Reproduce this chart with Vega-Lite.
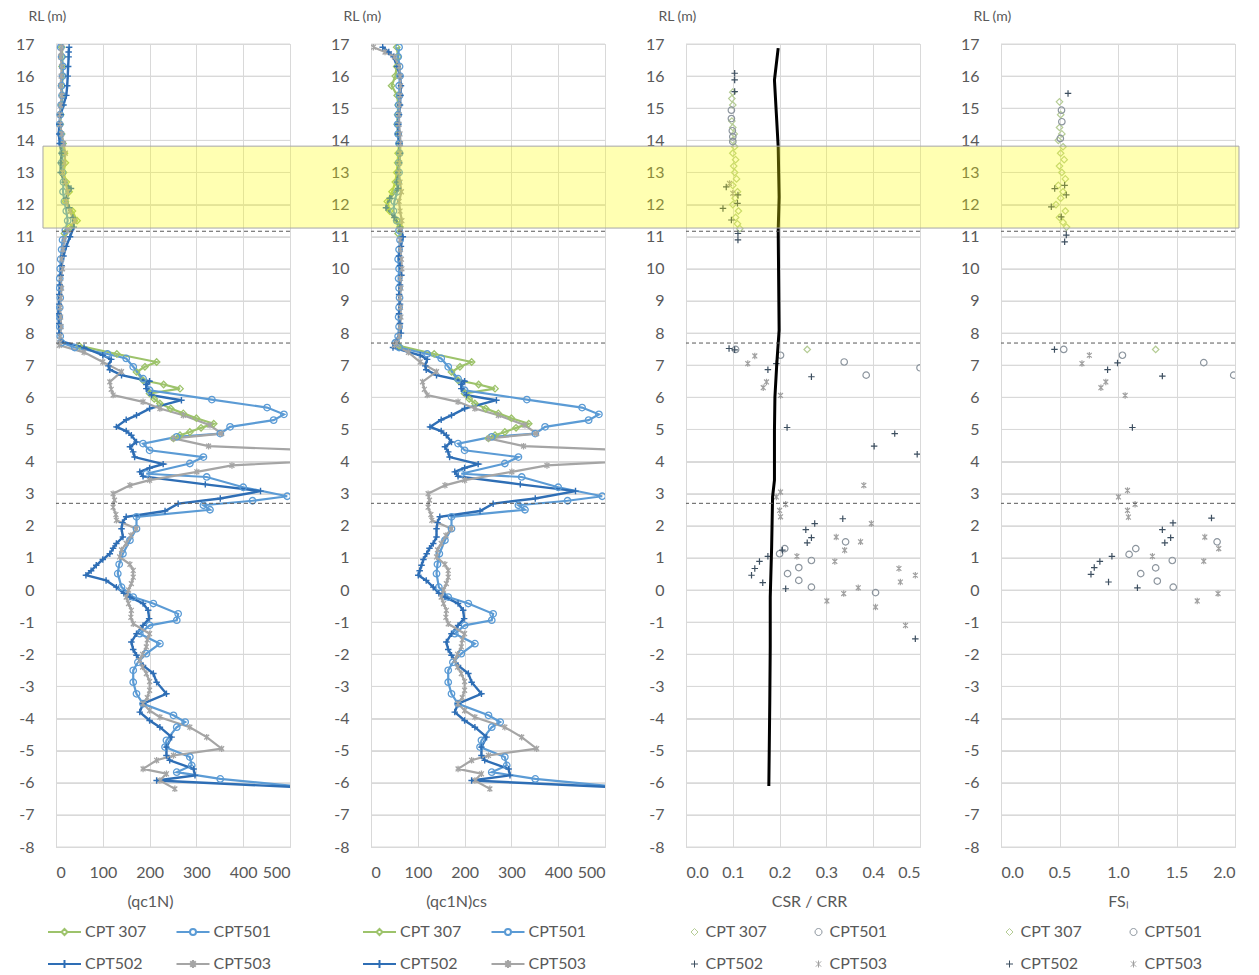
{
 "$schema": "https://vega.github.io/schema/vega-lite/v6.json",
 "padding": {"left": 14, "top": 8, "right": 5, "bottom": 5},
 "background": "white",
 "spacing": 81,
 "bounds": "flush",
 "config": {
  "font": "Lato",
  "view": {"stroke": "#d9d9d9"},
  "axis": {"labelFont": "Lato", "labelFontSize": 16, "labelColor": "#595959", "titleFont": "Lato", "titleFontSize": 16, "titleColor": "#595959", "titleFontWeight": "normal", "grid": true, "gridColor": "#d9d9d9", "gridOpacity": 1, "gridWidth": 1, "domain": false, "ticks": false, "labelOverlap": false},
  "axisX": {"labelPadding": 17, "titlePadding": 13},
  "axisY": {"labelPadding": 22},
  "legend": {"labelFont": "Lato", "labelFontSize": 16, "labelColor": "#595959", "padding": 0}
 },
 "resolve": {"scale": {"x": "independent", "y": "independent", "color": "independent", "shape": "independent"}, "legend": {"color": "independent", "shape": "independent"}},
 "datasets": {
  "grid": [{"rl": -8}, {"rl": -7}, {"rl": -6}, {"rl": -5}, {"rl": -4}, {"rl": -3}, {"rl": -2}, {"rl": -1}, {"rl": 0}, {"rl": 1}, {"rl": 2}, {"rl": 3}, {"rl": 4}, {"rl": 5}, {"rl": 6}, {"rl": 7}, {"rl": 8}, {"rl": 9}, {"rl": 10}, {"rl": 11}, {"rl": 12}, {"rl": 13}, {"rl": 14}, {"rl": 15}, {"rl": 16}, {"rl": 17}],
  "band": [{"rl": 11.27, "rl2": 13.82}],
  "bandEdge": [{"rl": 11.27}, {"rl": 13.82}],
  "dash": [{"rl": 11.17}, {"rl": 7.69}, {"rl": 2.7}],
  "csr": [
   {"rl": 16.87, "c": 0.197}, {"rl": 15.88, "c": 0.189}, {"rl": 14.84, "c": 0.193}, {"rl": 13.8, "c": 0.197}, {"rl": 12.24, "c": 0.199}, {"rl": 11.2, "c": 0.197}, {"rl": 8.09, "c": 0.199}, {"rl": 7.05, "c": 0.194}, {"rl": 6.01, "c": 0.19}, {"rl": 4.97, "c": 0.189}, {"rl": 3.42, "c": 0.189}, {"rl": 2.9, "c": 0.185}, {"rl": 1.34, "c": 0.183}, {"rl": -0.22, "c": 0.18}, {"rl": -1.77, "c": 0.18}, {"rl": -3.5, "c": 0.179}, {"rl": -6.1, "c": 0.177}
  ],
  "p12": [
   {"s": "CPT 307", "g": 1, "rl": 16.9, "a": 12, "b": 55},
   {"s": "CPT 307", "g": 1, "rl": 16.6, "a": 14, "b": 58},
   {"s": "CPT 307", "g": 1, "rl": 16.3, "a": 13, "b": 55},
   {"s": "CPT 307", "g": 1, "rl": 16.0, "a": 15, "b": 52},
   {"s": "CPT 307", "g": 1, "rl": 15.7, "a": 12, "b": 44},
   {"s": "CPT 307", "g": 1, "rl": 15.4, "a": 14, "b": 56},
   {"s": "CPT 307", "g": 1, "rl": 15.1, "a": 12, "b": 58},
   {"s": "CPT 307", "g": 1, "rl": 14.8, "a": 10, "b": 57},
   {"s": "CPT 307", "g": 1, "rl": 14.5, "a": 9, "b": 56},
   {"s": "CPT 307", "g": 1, "rl": 14.2, "a": 12, "b": 58},
   {"s": "CPT 307", "g": 1, "rl": 13.9, "a": 15, "b": 60},
   {"s": "CPT 307", "g": 1, "rl": 13.6, "a": 18, "b": 58},
   {"s": "CPT 307", "g": 1, "rl": 13.3, "a": 20, "b": 57},
   {"s": "CPT 307", "g": 1, "rl": 13.0, "a": 16, "b": 55},
   {"s": "CPT 307", "g": 1, "rl": 12.7, "a": 22, "b": 52},
   {"s": "CPT 307", "g": 1, "rl": 12.4, "a": 28, "b": 45},
   {"s": "CPT 307", "g": 1, "rl": 12.1, "a": 20, "b": 35},
   {"s": "CPT 307", "g": 1, "rl": 11.8, "a": 35, "b": 40},
   {"s": "CPT 307", "g": 1, "rl": 11.5, "a": 45, "b": 55},
   {"s": "CPT 307", "g": 1, "rl": 11.3, "a": 30, "b": 62},
   {"s": "CPT 307", "g": 1, "rl": 11.1, "a": 18, "b": 58},
   {"s": "CPT 307", "g": 2, "rl": 7.6, "a": 50, "b": 60},
   {"s": "CPT 307", "g": 2, "rl": 7.35, "a": 130, "b": 135},
   {"s": "CPT 307", "g": 2, "rl": 7.1, "a": 215, "b": 215},
   {"s": "CPT 307", "g": 2, "rl": 6.95, "a": 190, "b": 190},
   {"s": "CPT 307", "g": 2, "rl": 6.79, "a": 172, "b": 172},
   {"s": "CPT 307", "g": 2, "rl": 6.53, "a": 186, "b": 186},
   {"s": "CPT 307", "g": 2, "rl": 6.4, "a": 230, "b": 230},
   {"s": "CPT 307", "g": 2, "rl": 6.27, "a": 265, "b": 265},
   {"s": "CPT 307", "g": 2, "rl": 6.12, "a": 200, "b": 200},
   {"s": "CPT 307", "g": 2, "rl": 5.95, "a": 210, "b": 210},
   {"s": "CPT 307", "g": 2, "rl": 5.81, "a": 222, "b": 222},
   {"s": "CPT 307", "g": 2, "rl": 5.65, "a": 245, "b": 245},
   {"s": "CPT 307", "g": 2, "rl": 5.5, "a": 272, "b": 272},
   {"s": "CPT 307", "g": 2, "rl": 5.35, "a": 300, "b": 300},
   {"s": "CPT 307", "g": 2, "rl": 5.18, "a": 337, "b": 337},
   {"s": "CPT 307", "g": 2, "rl": 5.05, "a": 310, "b": 310},
   {"s": "CPT 307", "g": 2, "rl": 4.92, "a": 286, "b": 286},
   {"s": "CPT 307", "g": 2, "rl": 4.82, "a": 265, "b": 265},
   {"s": "CPT 307", "g": 2, "rl": 4.72, "a": 251, "b": 251},

   {"s": "CPT501", "g": 1, "rl": 16.9, "a": 10, "b": 60},
   {"s": "CPT501", "g": 1, "rl": 16.6, "a": 12, "b": 58},
   {"s": "CPT501", "g": 1, "rl": 16.3, "a": 15, "b": 61},
   {"s": "CPT501", "g": 1, "rl": 16.0, "a": 14, "b": 62},
   {"s": "CPT501", "g": 1, "rl": 15.7, "a": 12, "b": 60},
   {"s": "CPT501", "g": 1, "rl": 15.4, "a": 13, "b": 61},
   {"s": "CPT501", "g": 1, "rl": 15.1, "a": 11, "b": 59},
   {"s": "CPT501", "g": 1, "rl": 14.8, "a": 9, "b": 58},
   {"s": "CPT501", "g": 1, "rl": 14.5, "a": 8, "b": 57},
   {"s": "CPT501", "g": 1, "rl": 14.2, "a": 10, "b": 58},
   {"s": "CPT501", "g": 1, "rl": 13.9, "a": 12, "b": 60},
   {"s": "CPT501", "g": 1, "rl": 13.6, "a": 14, "b": 61},
   {"s": "CPT501", "g": 1, "rl": 13.3, "a": 12, "b": 59},
   {"s": "CPT501", "g": 1, "rl": 13.0, "a": 14, "b": 60},
   {"s": "CPT501", "g": 1, "rl": 12.7, "a": 16, "b": 58},
   {"s": "CPT501", "g": 1, "rl": 12.4, "a": 15, "b": 56},
   {"s": "CPT501", "g": 1, "rl": 12.1, "a": 18, "b": 50},
   {"s": "CPT501", "g": 1, "rl": 11.8, "a": 22, "b": 48},
   {"s": "CPT501", "g": 1, "rl": 11.5, "a": 25, "b": 55},
   {"s": "CPT501", "g": 1, "rl": 11.2, "a": 20, "b": 60},
   {"s": "CPT501", "g": 1, "rl": 10.9, "a": 14, "b": 62},
   {"s": "CPT501", "g": 1, "rl": 10.6, "a": 12, "b": 60},
   {"s": "CPT501", "g": 1, "rl": 10.3, "a": 10, "b": 58},
   {"s": "CPT501", "g": 1, "rl": 10.0, "a": 9, "b": 60},
   {"s": "CPT501", "g": 1, "rl": 9.7, "a": 8, "b": 59},
   {"s": "CPT501", "g": 1, "rl": 9.4, "a": 8, "b": 60},
   {"s": "CPT501", "g": 1, "rl": 9.1, "a": 9, "b": 61},
   {"s": "CPT501", "g": 1, "rl": 8.8, "a": 8, "b": 60},
   {"s": "CPT501", "g": 1, "rl": 8.5, "a": 7, "b": 59},
   {"s": "CPT501", "g": 1, "rl": 8.2, "a": 8, "b": 60},
   {"s": "CPT501", "g": 1, "rl": 7.9, "a": 9, "b": 58},
   {"s": "CPT501", "g": 1, "rl": 7.7, "a": 12, "b": 52},
   {"s": "CPT501", "g": 1, "rl": 7.55, "a": 40, "b": 60},
   {"s": "CPT501", "g": 1, "rl": 7.35, "a": 110, "b": 120},
   {"s": "CPT501", "g": 1, "rl": 7.21, "a": 150, "b": 150},
   {"s": "CPT501", "g": 1, "rl": 6.95, "a": 165, "b": 165},
   {"s": "CPT501", "g": 1, "rl": 6.58, "a": 186, "b": 186},
   {"s": "CPT501", "g": 1, "rl": 6.22, "a": 200, "b": 200},
   {"s": "CPT501", "g": 1, "rl": 5.93, "a": 333, "b": 333},
   {"s": "CPT501", "g": 1, "rl": 5.68, "a": 451, "b": 451},
   {"s": "CPT501", "g": 1, "rl": 5.47, "a": 487, "b": 487},
   {"s": "CPT501", "g": 1, "rl": 5.29, "a": 465, "b": 465},
   {"s": "CPT501", "g": 1, "rl": 5.08, "a": 372, "b": 372},
   {"s": "CPT501", "g": 1, "rl": 4.87, "a": 351, "b": 351},
   {"s": "CPT501", "g": 1, "rl": 4.77, "a": 258, "b": 258},
   {"s": "CPT501", "g": 1, "rl": 4.56, "a": 186, "b": 186},
   {"s": "CPT501", "g": 1, "rl": 4.35, "a": 200, "b": 200},
   {"s": "CPT501", "g": 1, "rl": 4.14, "a": 315, "b": 315},
   {"s": "CPT501", "g": 1, "rl": 3.94, "a": 286, "b": 286},
   {"s": "CPT501", "g": 1, "rl": 3.62, "a": 193, "b": 193},
   {"s": "CPT501", "g": 1, "rl": 3.52, "a": 322, "b": 322},
   {"s": "CPT501", "g": 1, "rl": 3.2, "a": 400, "b": 400},
   {"s": "CPT501", "g": 1, "rl": 2.92, "a": 494, "b": 494},
   {"s": "CPT501", "g": 1, "rl": 2.78, "a": 420, "b": 420},
   {"s": "CPT501", "g": 1, "rl": 2.64, "a": 315, "b": 315},
   {"s": "CPT501", "g": 1, "rl": 2.5, "a": 329, "b": 329},
   {"s": "CPT501", "g": 1, "rl": 2.28, "a": 172, "b": 172},
   {"s": "CPT501", "g": 1, "rl": 1.91, "a": 172, "b": 172},
   {"s": "CPT501", "g": 1, "rl": 1.55, "a": 158, "b": 158},
   {"s": "CPT501", "g": 1, "rl": 1.13, "a": 143, "b": 146},
   {"s": "CPT501", "g": 1, "rl": 0.8, "a": 135, "b": 142},
   {"s": "CPT501", "g": 1, "rl": 0.51, "a": 132, "b": 140},
   {"s": "CPT501", "g": 1, "rl": 0.09, "a": 140, "b": 145},
   {"s": "CPT501", "g": 1, "rl": -0.22, "a": 165, "b": 165},
   {"s": "CPT501", "g": 1, "rl": -0.42, "a": 208, "b": 208},
   {"s": "CPT501", "g": 1, "rl": -0.74, "a": 261, "b": 261},
   {"s": "CPT501", "g": 1, "rl": -0.94, "a": 258, "b": 258},
   {"s": "CPT501", "g": 1, "rl": -1.1, "a": 200, "b": 200},
   {"s": "CPT501", "g": 1, "rl": -1.36, "a": 179, "b": 179},
   {"s": "CPT501", "g": 1, "rl": -1.67, "a": 222, "b": 222},
   {"s": "CPT501", "g": 1, "rl": -1.98, "a": 193, "b": 193},
   {"s": "CPT501", "g": 1, "rl": -2.25, "a": 175, "b": 175},
   {"s": "CPT501", "g": 1, "rl": -2.5, "a": 165, "b": 165},
   {"s": "CPT501", "g": 1, "rl": -2.87, "a": 165, "b": 165},
   {"s": "CPT501", "g": 1, "rl": -3.23, "a": 172, "b": 172},
   {"s": "CPT501", "g": 1, "rl": -3.54, "a": 186, "b": 186},
   {"s": "CPT501", "g": 1, "rl": -3.9, "a": 251, "b": 251},
   {"s": "CPT501", "g": 1, "rl": -4.11, "a": 276, "b": 276},
   {"s": "CPT501", "g": 1, "rl": -4.27, "a": 258, "b": 258},
   {"s": "CPT501", "g": 1, "rl": -4.68, "a": 236, "b": 236},
   {"s": "CPT501", "g": 1, "rl": -4.89, "a": 233, "b": 233},
   {"s": "CPT501", "g": 1, "rl": -5.2, "a": 286, "b": 286},
   {"s": "CPT501", "g": 1, "rl": -5.46, "a": 290, "b": 290},
   {"s": "CPT501", "g": 1, "rl": -5.67, "a": 258, "b": 258},
   {"s": "CPT501", "g": 1, "rl": -5.88, "a": 351, "b": 351},
   {"s": "CPT501", "g": 1, "rl": -6.12, "a": 520, "b": 520},

   {"s": "CPT502", "g": 1, "rl": 16.9, "a": 28, "b": 25},
   {"s": "CPT502", "g": 1, "rl": 16.75, "a": 27, "b": 38},
   {"s": "CPT502", "g": 1, "rl": 16.6, "a": 27, "b": 48},
   {"s": "CPT502", "g": 1, "rl": 16.3, "a": 26, "b": 56},
   {"s": "CPT502", "g": 1, "rl": 16.0, "a": 25, "b": 62},
   {"s": "CPT502", "g": 1, "rl": 15.7, "a": 24, "b": 64},
   {"s": "CPT502", "g": 1, "rl": 15.4, "a": 22, "b": 63},
   {"s": "CPT502", "g": 1, "rl": 15.1, "a": 16, "b": 62},
   {"s": "CPT502", "g": 1, "rl": 14.8, "a": 10, "b": 60},
   {"s": "CPT502", "g": 1, "rl": 14.5, "a": 7, "b": 58},
   {"s": "CPT502", "g": 1, "rl": 14.2, "a": 6, "b": 58},
   {"s": "CPT502", "g": 1, "rl": 13.9, "a": 8, "b": 60},
   {"s": "CPT502", "g": 1, "rl": 13.6, "a": 12, "b": 62},
   {"s": "CPT502", "g": 1, "rl": 13.3, "a": 10, "b": 60},
   {"s": "CPT502", "g": 1, "rl": 13.0, "a": 10, "b": 58},
   {"s": "CPT502", "g": 1, "rl": 12.7, "a": 18, "b": 55},
   {"s": "CPT502", "g": 1, "rl": 12.5, "a": 32, "b": 58},
   {"s": "CPT502", "g": 1, "rl": 12.2, "a": 22, "b": 40},
   {"s": "CPT502", "g": 1, "rl": 11.9, "a": 28, "b": 32},
   {"s": "CPT502", "g": 1, "rl": 11.6, "a": 36, "b": 50},
   {"s": "CPT502", "g": 1, "rl": 11.3, "a": 38, "b": 62},
   {"s": "CPT502", "g": 1, "rl": 11.0, "a": 30, "b": 68},
   {"s": "CPT502", "g": 1, "rl": 10.7, "a": 22, "b": 64},
   {"s": "CPT502", "g": 1, "rl": 10.4, "a": 16, "b": 60},
   {"s": "CPT502", "g": 1, "rl": 10.1, "a": 12, "b": 62},
   {"s": "CPT502", "g": 1, "rl": 9.8, "a": 10, "b": 65},
   {"s": "CPT502", "g": 1, "rl": 9.5, "a": 8, "b": 62},
   {"s": "CPT502", "g": 1, "rl": 9.2, "a": 7, "b": 60},
   {"s": "CPT502", "g": 1, "rl": 8.9, "a": 6, "b": 62},
   {"s": "CPT502", "g": 1, "rl": 8.6, "a": 5, "b": 60},
   {"s": "CPT502", "g": 1, "rl": 8.3, "a": 6, "b": 62},
   {"s": "CPT502", "g": 1, "rl": 8.0, "a": 7, "b": 64},
   {"s": "CPT502", "g": 1, "rl": 7.75, "a": 10, "b": 55},
   {"s": "CPT502", "g": 1, "rl": 7.55, "a": 60, "b": 47},
   {"s": "CPT502", "g": 1, "rl": 7.31, "a": 100, "b": 105},
   {"s": "CPT502", "g": 1, "rl": 7.18, "a": 118, "b": 120},
   {"s": "CPT502", "g": 1, "rl": 6.98, "a": 112, "b": 116},
   {"s": "CPT502", "g": 1, "rl": 6.86, "a": 115, "b": 118},
   {"s": "CPT502", "g": 1, "rl": 6.69, "a": 140, "b": 140},
   {"s": "CPT502", "g": 1, "rl": 6.5, "a": 200, "b": 200},
   {"s": "CPT502", "g": 1, "rl": 6.4, "a": 193, "b": 193},
   {"s": "CPT502", "g": 1, "rl": 6.27, "a": 193, "b": 193},
   {"s": "CPT502", "g": 1, "rl": 6.07, "a": 204, "b": 204},
   {"s": "CPT502", "g": 1, "rl": 5.91, "a": 268, "b": 268},
   {"s": "CPT502", "g": 1, "rl": 5.65, "a": 200, "b": 200},
   {"s": "CPT502", "g": 1, "rl": 5.44, "a": 172, "b": 172},
   {"s": "CPT502", "g": 1, "rl": 5.3, "a": 150, "b": 150},
   {"s": "CPT502", "g": 1, "rl": 5.08, "a": 129, "b": 126},
   {"s": "CPT502", "g": 1, "rl": 4.95, "a": 150, "b": 150},
   {"s": "CPT502", "g": 1, "rl": 4.82, "a": 161, "b": 161},
   {"s": "CPT502", "g": 1, "rl": 4.61, "a": 172, "b": 172},
   {"s": "CPT502", "g": 1, "rl": 4.46, "a": 158, "b": 158},
   {"s": "CPT502", "g": 1, "rl": 4.3, "a": 165, "b": 165},
   {"s": "CPT502", "g": 1, "rl": 4.14, "a": 168, "b": 168},
   {"s": "CPT502", "g": 1, "rl": 3.92, "a": 229, "b": 229},
   {"s": "CPT502", "g": 1, "rl": 3.8, "a": 200, "b": 200},
   {"s": "CPT502", "g": 1, "rl": 3.68, "a": 179, "b": 179},
   {"s": "CPT502", "g": 1, "rl": 3.54, "a": 186, "b": 186},
   {"s": "CPT502", "g": 1, "rl": 3.29, "a": 319, "b": 319},
   {"s": "CPT502", "g": 1, "rl": 3.08, "a": 437, "b": 437},
   {"s": "CPT502", "g": 1, "rl": 2.85, "a": 351, "b": 351},
   {"s": "CPT502", "g": 1, "rl": 2.69, "a": 261, "b": 261},
   {"s": "CPT502", "g": 1, "rl": 2.46, "a": 233, "b": 233},
   {"s": "CPT502", "g": 1, "rl": 2.28, "a": 150, "b": 147},
   {"s": "CPT502", "g": 1, "rl": 2.1, "a": 142, "b": 142},
   {"s": "CPT502", "g": 1, "rl": 1.91, "a": 140, "b": 140},
   {"s": "CPT502", "g": 1, "rl": 1.65, "a": 143, "b": 140},
   {"s": "CPT502", "g": 1, "rl": 1.45, "a": 129, "b": 133},
   {"s": "CPT502", "g": 1, "rl": 1.3, "a": 122, "b": 125},
   {"s": "CPT502", "g": 1, "rl": 1.13, "a": 115, "b": 119},
   {"s": "CPT502", "g": 1, "rl": 0.95, "a": 100, "b": 112},
   {"s": "CPT502", "g": 1, "rl": 0.77, "a": 86, "b": 108},
   {"s": "CPT502", "g": 1, "rl": 0.6, "a": 75, "b": 104},
   {"s": "CPT502", "g": 1, "rl": 0.46, "a": 64, "b": 101},
   {"s": "CPT502", "g": 1, "rl": 0.3, "a": 107, "b": 118},
   {"s": "CPT502", "g": 1, "rl": 0.09, "a": 129, "b": 133},
   {"s": "CPT502", "g": 1, "rl": -0.1, "a": 145, "b": 145},
   {"s": "CPT502", "g": 1, "rl": -0.22, "a": 158, "b": 158},
   {"s": "CPT502", "g": 1, "rl": -0.42, "a": 186, "b": 186},
   {"s": "CPT502", "g": 1, "rl": -0.63, "a": 197, "b": 197},
   {"s": "CPT502", "g": 1, "rl": -0.89, "a": 199, "b": 199},
   {"s": "CPT502", "g": 1, "rl": -1.1, "a": 186, "b": 186},
   {"s": "CPT502", "g": 1, "rl": -1.36, "a": 172, "b": 172},
   {"s": "CPT502", "g": 1, "rl": -1.62, "a": 161, "b": 161},
   {"s": "CPT502", "g": 1, "rl": -1.85, "a": 165, "b": 165},
   {"s": "CPT502", "g": 1, "rl": -2.03, "a": 172, "b": 172},
   {"s": "CPT502", "g": 1, "rl": -2.35, "a": 186, "b": 186},
   {"s": "CPT502", "g": 1, "rl": -2.6, "a": 208, "b": 208},
   {"s": "CPT502", "g": 1, "rl": -2.87, "a": 215, "b": 215},
   {"s": "CPT502", "g": 1, "rl": -3.23, "a": 236, "b": 236},
   {"s": "CPT502", "g": 1, "rl": -3.54, "a": 186, "b": 186},
   {"s": "CPT502", "g": 1, "rl": -3.8, "a": 179, "b": 179},
   {"s": "CPT502", "g": 1, "rl": -4.06, "a": 200, "b": 200},
   {"s": "CPT502", "g": 1, "rl": -4.27, "a": 222, "b": 222},
   {"s": "CPT502", "g": 1, "rl": -4.58, "a": 247, "b": 247},
   {"s": "CPT502", "g": 1, "rl": -4.89, "a": 236, "b": 236},
   {"s": "CPT502", "g": 1, "rl": -5.15, "a": 236, "b": 236},
   {"s": "CPT502", "g": 1, "rl": -5.3, "a": 243, "b": 243},
   {"s": "CPT502", "g": 1, "rl": -5.57, "a": 294, "b": 294},
   {"s": "CPT502", "g": 1, "rl": -5.77, "a": 297, "b": 297},
   {"s": "CPT502", "g": 1, "rl": -5.93, "a": 215, "b": 215},
   {"s": "CPT502", "g": 1, "rl": -6.14, "a": 520, "b": 520},

   {"s": "CPT503", "g": 1, "rl": 16.9, "a": 12, "b": 5},
   {"s": "CPT503", "g": 1, "rl": 16.75, "a": 11, "b": 30},
   {"s": "CPT503", "g": 1, "rl": 16.6, "a": 10, "b": 50},
   {"s": "CPT503", "g": 1, "rl": 16.3, "a": 12, "b": 60},
   {"s": "CPT503", "g": 1, "rl": 16.0, "a": 11, "b": 62},
   {"s": "CPT503", "g": 1, "rl": 15.7, "a": 10, "b": 63},
   {"s": "CPT503", "g": 1, "rl": 15.4, "a": 12, "b": 62},
   {"s": "CPT503", "g": 1, "rl": 15.1, "a": 10, "b": 61},
   {"s": "CPT503", "g": 1, "rl": 14.8, "a": 8, "b": 60},
   {"s": "CPT503", "g": 1, "rl": 14.5, "a": 9, "b": 60},
   {"s": "CPT503", "g": 1, "rl": 14.2, "a": 12, "b": 62},
   {"s": "CPT503", "g": 1, "rl": 13.9, "a": 16, "b": 63},
   {"s": "CPT503", "g": 1, "rl": 13.6, "a": 20, "b": 62},
   {"s": "CPT503", "g": 1, "rl": 13.3, "a": 18, "b": 61},
   {"s": "CPT503", "g": 1, "rl": 13.0, "a": 14, "b": 60},
   {"s": "CPT503", "g": 1, "rl": 12.7, "a": 20, "b": 62},
   {"s": "CPT503", "g": 1, "rl": 12.4, "a": 25, "b": 65},
   {"s": "CPT503", "g": 1, "rl": 12.1, "a": 22, "b": 60},
   {"s": "CPT503", "g": 1, "rl": 11.8, "a": 30, "b": 62},
   {"s": "CPT503", "g": 1, "rl": 11.5, "a": 40, "b": 66},
   {"s": "CPT503", "g": 1, "rl": 11.2, "a": 25, "b": 64},
   {"s": "CPT503", "g": 1, "rl": 10.9, "a": 18, "b": 62},
   {"s": "CPT503", "g": 1, "rl": 10.6, "a": 15, "b": 63},
   {"s": "CPT503", "g": 1, "rl": 10.3, "a": 12, "b": 65},
   {"s": "CPT503", "g": 1, "rl": 10.0, "a": 14, "b": 66},
   {"s": "CPT503", "g": 1, "rl": 9.7, "a": 10, "b": 63},
   {"s": "CPT503", "g": 1, "rl": 9.4, "a": 12, "b": 64},
   {"s": "CPT503", "g": 1, "rl": 9.1, "a": 10, "b": 62},
   {"s": "CPT503", "g": 1, "rl": 8.8, "a": 9, "b": 63},
   {"s": "CPT503", "g": 1, "rl": 8.5, "a": 10, "b": 64},
   {"s": "CPT503", "g": 1, "rl": 8.2, "a": 11, "b": 62},
   {"s": "CPT503", "g": 1, "rl": 7.9, "a": 9, "b": 60},
   {"s": "CPT503", "g": 1, "rl": 7.7, "a": 8, "b": 55},
   {"s": "CPT503", "g": 1, "rl": 7.62, "a": 7, "b": 50},
   {"s": "CPT503", "g": 1, "rl": 7.4, "a": 60, "b": 80},
   {"s": "CPT503", "g": 1, "rl": 7.1, "a": 100, "b": 105},
   {"s": "CPT503", "g": 1, "rl": 6.8, "a": 140, "b": 140},
   {"s": "CPT503", "g": 1, "rl": 6.48, "a": 115, "b": 110},
   {"s": "CPT503", "g": 1, "rl": 6.25, "a": 118, "b": 114},
   {"s": "CPT503", "g": 1, "rl": 6.07, "a": 122, "b": 120},
   {"s": "CPT503", "g": 1, "rl": 5.86, "a": 186, "b": 186},
   {"s": "CPT503", "g": 1, "rl": 5.65, "a": 222, "b": 222},
   {"s": "CPT503", "g": 1, "rl": 5.44, "a": 272, "b": 272},
   {"s": "CPT503", "g": 1, "rl": 5.13, "a": 329, "b": 329},
   {"s": "CPT503", "g": 1, "rl": 4.87, "a": 354, "b": 354},
   {"s": "CPT503", "g": 1, "rl": 4.72, "a": 251, "b": 251},
   {"s": "CPT503", "g": 1, "rl": 4.48, "a": 326, "b": 326},
   {"s": "CPT503", "g": 1, "rl": 4.2, "a": 800, "b": 800},
   {"s": "CPT503", "g": 1, "rl": 3.88, "a": 376, "b": 376},
   {"s": "CPT503", "g": 1, "rl": 3.68, "a": 301, "b": 301},
   {"s": "CPT503", "g": 1, "rl": 3.42, "a": 200, "b": 200},
   {"s": "CPT503", "g": 1, "rl": 3.26, "a": 158, "b": 158},
   {"s": "CPT503", "g": 1, "rl": 3.0, "a": 122, "b": 122},
   {"s": "CPT503", "g": 1, "rl": 2.8, "a": 125, "b": 125},
   {"s": "CPT503", "g": 1, "rl": 2.58, "a": 122, "b": 122},
   {"s": "CPT503", "g": 1, "rl": 2.35, "a": 128, "b": 128},
   {"s": "CPT503", "g": 1, "rl": 2.17, "a": 129, "b": 130},
   {"s": "CPT503", "g": 1, "rl": 1.91, "a": 172, "b": 172},
   {"s": "CPT503", "g": 1, "rl": 1.7, "a": 160, "b": 160},
   {"s": "CPT503", "g": 1, "rl": 1.45, "a": 150, "b": 150},
   {"s": "CPT503", "g": 1, "rl": 1.25, "a": 140, "b": 142},
   {"s": "CPT503", "g": 1, "rl": 1.03, "a": 136, "b": 140},
   {"s": "CPT503", "g": 1, "rl": 0.8, "a": 158, "b": 158},
   {"s": "CPT503", "g": 1, "rl": 0.61, "a": 165, "b": 165},
   {"s": "CPT503", "g": 1, "rl": 0.4, "a": 165, "b": 165},
   {"s": "CPT503", "g": 1, "rl": 0.2, "a": 161, "b": 161},
   {"s": "CPT503", "g": 1, "rl": 0.0, "a": 155, "b": 155},
   {"s": "CPT503", "g": 1, "rl": -0.22, "a": 150, "b": 150},
   {"s": "CPT503", "g": 1, "rl": -0.42, "a": 155, "b": 155},
   {"s": "CPT503", "g": 1, "rl": -0.63, "a": 161, "b": 161},
   {"s": "CPT503", "g": 1, "rl": -0.85, "a": 160, "b": 160},
   {"s": "CPT503", "g": 1, "rl": -1.05, "a": 165, "b": 165},
   {"s": "CPT503", "g": 1, "rl": -1.36, "a": 200, "b": 200},
   {"s": "CPT503", "g": 1, "rl": -1.55, "a": 195, "b": 195},
   {"s": "CPT503", "g": 1, "rl": -1.77, "a": 193, "b": 193},
   {"s": "CPT503", "g": 1, "rl": -2.0, "a": 185, "b": 185},
   {"s": "CPT503", "g": 1, "rl": -2.19, "a": 179, "b": 179},
   {"s": "CPT503", "g": 1, "rl": -2.4, "a": 185, "b": 185},
   {"s": "CPT503", "g": 1, "rl": -2.6, "a": 193, "b": 193},
   {"s": "CPT503", "g": 1, "rl": -2.85, "a": 200, "b": 200},
   {"s": "CPT503", "g": 1, "rl": -3.12, "a": 200, "b": 200},
   {"s": "CPT503", "g": 1, "rl": -3.35, "a": 195, "b": 195},
   {"s": "CPT503", "g": 1, "rl": -3.54, "a": 186, "b": 186},
   {"s": "CPT503", "g": 1, "rl": -3.75, "a": 200, "b": 200},
   {"s": "CPT503", "g": 1, "rl": -3.96, "a": 222, "b": 222},
   {"s": "CPT503", "g": 1, "rl": -4.27, "a": 286, "b": 286},
   {"s": "CPT503", "g": 1, "rl": -4.58, "a": 322, "b": 322},
   {"s": "CPT503", "g": 1, "rl": -4.94, "a": 354, "b": 354},
   {"s": "CPT503", "g": 1, "rl": -5.15, "a": 251, "b": 251},
   {"s": "CPT503", "g": 1, "rl": -5.3, "a": 215, "b": 215},
   {"s": "CPT503", "g": 1, "rl": -5.57, "a": 186, "b": 186},
   {"s": "CPT503", "g": 1, "rl": -5.72, "a": 236, "b": 236},
   {"s": "CPT503", "g": 1, "rl": -5.93, "a": 222, "b": 222},
   {"s": "CPT503", "g": 1, "rl": -6.19, "a": 254, "b": 254}
  ],
  "p3": [
   {"s": "CPT 307", "rl": 15.5, "c": 0.1}, {"s": "CPT 307", "rl": 15.3, "c": 0.098}, {"s": "CPT 307", "rl": 15.1, "c": 0.1}, {"s": "CPT 307", "rl": 14.6, "c": 0.098}, {"s": "CPT 307", "rl": 14.4, "c": 0.1}, {"s": "CPT 307", "rl": 14.2, "c": 0.103}, {"s": "CPT 307", "rl": 14.0, "c": 0.1}, {"s": "CPT 307", "rl": 13.8, "c": 0.104}, {"s": "CPT 307", "rl": 13.6, "c": 0.1}, {"s": "CPT 307", "rl": 13.4, "c": 0.106}, {"s": "CPT 307", "rl": 13.2, "c": 0.102}, {"s": "CPT 307", "rl": 13.0, "c": 0.104}, {"s": "CPT 307", "rl": 12.8, "c": 0.108}, {"s": "CPT 307", "rl": 12.6, "c": 0.1}, {"s": "CPT 307", "rl": 12.4, "c": 0.11}, {"s": "CPT 307", "rl": 12.2, "c": 0.105}, {"s": "CPT 307", "rl": 12.0, "c": 0.1}, {"s": "CPT 307", "rl": 11.8, "c": 0.112}, {"s": "CPT 307", "rl": 11.6, "c": 0.106}, {"s": "CPT 307", "rl": 11.4, "c": 0.11}, {"s": "CPT 307", "rl": 11.25, "c": 0.115}, {"s": "CPT 307", "rl": 7.49, "c": 0.259},
   {"s": "CPT501", "rl": 14.94, "c": 0.097}, {"s": "CPT501", "rl": 14.68, "c": 0.097}, {"s": "CPT501", "rl": 14.3, "c": 0.099}, {"s": "CPT501", "rl": 14.11, "c": 0.1}, {"s": "CPT501", "rl": 13.96, "c": 0.1},
   {"s": "CPT501", "rl": 7.49, "c": 0.106}, {"s": "CPT501", "rl": 7.31, "c": 0.202}, {"s": "CPT501", "rl": 7.1, "c": 0.338}, {"s": "CPT501", "rl": 6.92, "c": 0.5}, {"s": "CPT501", "rl": 6.69, "c": 0.385}, {"s": "CPT501", "rl": 1.5, "c": 0.341}, {"s": "CPT501", "rl": 1.29, "c": 0.211}, {"s": "CPT501", "rl": 1.13, "c": 0.2}, {"s": "CPT501", "rl": 0.92, "c": 0.268}, {"s": "CPT501", "rl": 0.7, "c": 0.241}, {"s": "CPT501", "rl": 0.51, "c": 0.217}, {"s": "CPT501", "rl": 0.3, "c": 0.241}, {"s": "CPT501", "rl": 0.09, "c": 0.268}, {"s": "CPT501", "rl": -0.08, "c": 0.405},
   {"s": "CPT502", "rl": 16.09, "c": 0.104}, {"s": "CPT502", "rl": 15.88, "c": 0.104}, {"s": "CPT502", "rl": 15.52, "c": 0.104}, {"s": "CPT502", "rl": 12.55, "c": 0.086}, {"s": "CPT502", "rl": 12.3, "c": 0.111}, {"s": "CPT502", "rl": 12.04, "c": 0.11}, {"s": "CPT502", "rl": 11.88, "c": 0.079}, {"s": "CPT502", "rl": 11.52, "c": 0.097}, {"s": "CPT502", "rl": 11.1, "c": 0.111}, {"s": "CPT502", "rl": 10.9, "c": 0.111},
   {"s": "CPT502", "rl": 7.52, "c": 0.092}, {"s": "CPT502", "rl": 7.48, "c": 0.104}, {"s": "CPT502", "rl": 7.05, "c": 0.193}, {"s": "CPT502", "rl": 6.86, "c": 0.175}, {"s": "CPT502", "rl": 6.64, "c": 0.268}, {"s": "CPT502", "rl": 5.06, "c": 0.216}, {"s": "CPT502", "rl": 4.87, "c": 0.446}, {"s": "CPT502", "rl": 4.48, "c": 0.402}, {"s": "CPT502", "rl": 4.23, "c": 0.494}, {"s": "CPT502", "rl": 2.22, "c": 0.335}, {"s": "CPT502", "rl": 2.07, "c": 0.275}, {"s": "CPT502", "rl": 1.88, "c": 0.256}, {"s": "CPT502", "rl": 1.63, "c": 0.268}, {"s": "CPT502", "rl": 1.47, "c": 0.259}, {"s": "CPT502", "rl": 1.24, "c": 0.206}, {"s": "CPT502", "rl": 1.05, "c": 0.175}, {"s": "CPT502", "rl": 0.89, "c": 0.157}, {"s": "CPT502", "rl": 0.67, "c": 0.147}, {"s": "CPT502", "rl": 0.46, "c": 0.14}, {"s": "CPT502", "rl": 0.23, "c": 0.164}, {"s": "CPT502", "rl": 0.04, "c": 0.213}, {"s": "CPT502", "rl": -1.52, "c": 0.49},
   {"s": "CPT503", "rl": 12.66, "c": 0.093}, {"s": "CPT503", "rl": 12.35, "c": 0.1},
   {"s": "CPT503", "rl": 7.29, "c": 0.147}, {"s": "CPT503", "rl": 7.05, "c": 0.132}, {"s": "CPT503", "rl": 6.48, "c": 0.172}, {"s": "CPT503", "rl": 6.3, "c": 0.165}, {"s": "CPT503", "rl": 6.06, "c": 0.202}, {"s": "CPT503", "rl": 3.26, "c": 0.38}, {"s": "CPT503", "rl": 3.05, "c": 0.202}, {"s": "CPT503", "rl": 2.9, "c": 0.193}, {"s": "CPT503", "rl": 2.67, "c": 0.213}, {"s": "CPT503", "rl": 2.48, "c": 0.2}, {"s": "CPT503", "rl": 2.28, "c": 0.202}, {"s": "CPT503", "rl": 2.07, "c": 0.396}, {"s": "CPT503", "rl": 1.65, "c": 0.321}, {"s": "CPT503", "rl": 1.5, "c": 0.373}, {"s": "CPT503", "rl": 1.24, "c": 0.339}, {"s": "CPT503", "rl": 1.05, "c": 0.237}, {"s": "CPT503", "rl": 0.89, "c": 0.318}, {"s": "CPT503", "rl": 0.67, "c": 0.455}, {"s": "CPT503", "rl": 0.46, "c": 0.49}, {"s": "CPT503", "rl": 0.25, "c": 0.458}, {"s": "CPT503", "rl": 0.07, "c": 0.368}, {"s": "CPT503", "rl": -0.11, "c": 0.337}, {"s": "CPT503", "rl": -0.34, "c": 0.301}, {"s": "CPT503", "rl": -0.53, "c": 0.405}, {"s": "CPT503", "rl": -1.1, "c": 0.469}
  ],
  "p4": [
   {"s": "CPT 307", "rl": 15.2, "f": 0.5}, {"s": "CPT 307", "rl": 14.8, "f": 0.51}, {"s": "CPT 307", "rl": 14.4, "f": 0.5}, {"s": "CPT 307", "rl": 14.2, "f": 0.52}, {"s": "CPT 307", "rl": 14.0, "f": 0.49}, {"s": "CPT 307", "rl": 13.8, "f": 0.53}, {"s": "CPT 307", "rl": 13.6, "f": 0.51}, {"s": "CPT 307", "rl": 13.4, "f": 0.54}, {"s": "CPT 307", "rl": 13.2, "f": 0.5}, {"s": "CPT 307", "rl": 13.0, "f": 0.52}, {"s": "CPT 307", "rl": 12.8, "f": 0.55}, {"s": "CPT 307", "rl": 12.6, "f": 0.49}, {"s": "CPT 307", "rl": 12.4, "f": 0.53}, {"s": "CPT 307", "rl": 12.2, "f": 0.51}, {"s": "CPT 307", "rl": 12.0, "f": 0.47}, {"s": "CPT 307", "rl": 11.8, "f": 0.55}, {"s": "CPT 307", "rl": 11.6, "f": 0.5}, {"s": "CPT 307", "rl": 11.45, "f": 0.53}, {"s": "CPT 307", "rl": 11.3, "f": 0.56}, {"s": "CPT 307", "rl": 7.49, "f": 1.322},
   {"s": "CPT501", "rl": 14.94, "f": 0.517}, {"s": "CPT501", "rl": 14.58, "f": 0.52}, {"s": "CPT501", "rl": 14.06, "f": 0.507},
   {"s": "CPT501", "rl": 7.49, "f": 0.536}, {"s": "CPT501", "rl": 7.31, "f": 1.038}, {"s": "CPT501", "rl": 7.08, "f": 1.733}, {"s": "CPT501", "rl": 6.69, "f": 1.989}, {"s": "CPT501", "rl": 1.5, "f": 1.847}, {"s": "CPT501", "rl": 1.29, "f": 1.152}, {"s": "CPT501", "rl": 1.11, "f": 1.095}, {"s": "CPT501", "rl": 0.92, "f": 1.464}, {"s": "CPT501", "rl": 0.69, "f": 1.322}, {"s": "CPT501", "rl": 0.51, "f": 1.194}, {"s": "CPT501", "rl": 0.28, "f": 1.336}, {"s": "CPT501", "rl": 0.09, "f": 1.472},
   {"s": "CPT502", "rl": 15.46, "f": 0.573}, {"s": "CPT502", "rl": 12.6, "f": 0.544}, {"s": "CPT502", "rl": 12.5, "f": 0.459}, {"s": "CPT502", "rl": 12.3, "f": 0.558}, {"s": "CPT502", "rl": 11.93, "f": 0.43}, {"s": "CPT502", "rl": 11.62, "f": 0.515}, {"s": "CPT502", "rl": 11.05, "f": 0.558}, {"s": "CPT502", "rl": 10.84, "f": 0.544},
   {"s": "CPT502", "rl": 7.49, "f": 0.457}, {"s": "CPT502", "rl": 7.07, "f": 0.996}, {"s": "CPT502", "rl": 6.86, "f": 0.911}, {"s": "CPT502", "rl": 6.66, "f": 1.379}, {"s": "CPT502", "rl": 5.06, "f": 1.123}, {"s": "CPT502", "rl": 2.24, "f": 1.799}, {"s": "CPT502", "rl": 2.09, "f": 1.47}, {"s": "CPT502", "rl": 1.88, "f": 1.379}, {"s": "CPT502", "rl": 1.63, "f": 1.45}, {"s": "CPT502", "rl": 1.47, "f": 1.4}, {"s": "CPT502", "rl": 1.05, "f": 0.948}, {"s": "CPT502", "rl": 0.89, "f": 0.845}, {"s": "CPT502", "rl": 0.7, "f": 0.797}, {"s": "CPT502", "rl": 0.49, "f": 0.769}, {"s": "CPT502", "rl": 0.25, "f": 0.919}, {"s": "CPT502", "rl": 0.07, "f": 1.166},
   {"s": "CPT503", "rl": 7.31, "f": 0.755}, {"s": "CPT503", "rl": 7.05, "f": 0.692}, {"s": "CPT503", "rl": 6.48, "f": 0.896}, {"s": "CPT503", "rl": 6.3, "f": 0.854}, {"s": "CPT503", "rl": 6.06, "f": 1.061}, {"s": "CPT503", "rl": 3.1, "f": 1.081}, {"s": "CPT503", "rl": 2.9, "f": 1.004}, {"s": "CPT503", "rl": 2.67, "f": 1.146}, {"s": "CPT503", "rl": 2.48, "f": 1.081}, {"s": "CPT503", "rl": 2.27, "f": 1.089}, {"s": "CPT503", "rl": 1.65, "f": 1.742}, {"s": "CPT503", "rl": 1.29, "f": 1.861}, {"s": "CPT503", "rl": 1.05, "f": 1.294}, {"s": "CPT503", "rl": 0.9, "f": 1.733}, {"s": "CPT503", "rl": -0.11, "f": 1.855}, {"s": "CPT503", "rl": -0.34, "f": 1.677}
  ]
 },
 "hconcat": [
  {
   "width": 234, "height": 803,
   "encoding": {"y": {"field": "rl", "type": "quantitative", "scale": {"domain": [-8, 17], "nice": false, "zero": false}, "axis": {"values": [-8,-7,-6,-5,-4,-3,-2,-1,0,1,2,3,4,5,6,7,8,9,10,11,12,13,14,15,16,17], "grid": true, "labelOverlap": false, "labelSeparation": 0, "labelExpr": "'' + datum.value", "title": "RL (m)", "titleAngle": 0, "titleAlign": "left", "titleBaseline": "alphabetic", "titleX": -28, "titleY": -24, "titleFontSize": 14}}},
   "layer": [
    {"data": {"name": "grid"}, "mark": {"type": "rule", "color": "#d9d9d9", "strokeWidth": 1}, "encoding": {}},
    {"data": {"name": "p12"}, "transform": [{"filter": "datum.s === 'CPT 307'"}], "mark": {"type": "line", "clip": true, "strokeWidth": 2.2, "color": "#9dc36b"},
     "encoding": {"x": {"field": "a", "type": "quantitative", "scale": {"domain": [0, 500], "nice": false, "zero": false}, "axis": {"values": [0, 100, 200, 300, 400, 500], "title": "(qc1N)", "titleX": 94}}, "detail": {"field": "g"}, "order": {"field": "rl", "sort": "descending"}}},
    {"data": {"name": "p12"}, "transform": [{"filter": "datum.s === 'CPT501'"}], "mark": {"type": "line", "clip": true, "strokeWidth": 2.2, "color": "#5b9bd5"},
     "encoding": {"x": {"field": "a", "type": "quantitative"}, "order": {"field": "rl", "sort": "descending"}}},
    {"data": {"name": "p12"}, "transform": [{"filter": "datum.s === 'CPT502'"}], "mark": {"type": "line", "clip": true, "strokeWidth": 2.4, "color": "#2e6eb5"},
     "encoding": {"x": {"field": "a", "type": "quantitative"}, "order": {"field": "rl", "sort": "descending"}}},
    {"data": {"name": "p12"}, "transform": [{"filter": "datum.s === 'CPT503'"}], "mark": {"type": "line", "clip": true, "strokeWidth": 2.2, "color": "#a5a5a5"},
     "encoding": {"x": {"field": "a", "type": "quantitative"}, "order": {"field": "rl", "sort": "descending"}}},
    {"data": {"name": "p12"}, "transform": [{"filter": "datum.s === 'CPT 307'"}], "mark": {"type": "point", "clip": true, "filled": false, "size": 42, "strokeWidth": 1.3, "opacity": 1, "shape": "M0,-1L1,0L0,1L-1,0Z", "color": "#9dc36b"},
     "encoding": {"x": {"field": "a", "type": "quantitative"}}},
    {"data": {"name": "p12"}, "transform": [{"filter": "datum.s === 'CPT501'"}], "mark": {"type": "point", "clip": true, "filled": false, "size": 42, "strokeWidth": 1.3, "opacity": 1, "shape": "M1,0A1,1,0,1,1,-1,0A1,1,0,1,1,1,0Z", "color": "#5b9bd5"},
     "encoding": {"x": {"field": "a", "type": "quantitative"}}},
    {"data": {"name": "p12"}, "transform": [{"filter": "datum.s === 'CPT502'"}], "mark": {"type": "point", "clip": true, "filled": false, "size": 42, "strokeWidth": 1.4, "opacity": 1, "shape": "M-1,0H1M0,-1V1", "color": "#2e6eb5"},
     "encoding": {"x": {"field": "a", "type": "quantitative"}}},
    {"data": {"name": "p12"}, "transform": [{"filter": "datum.s === 'CPT503'"}], "mark": {"type": "point", "clip": true, "filled": false, "size": 42, "strokeWidth": 1.3, "opacity": 1, "shape": "M-0.75,-0.75L0.75,0.75M-0.75,0.75L0.75,-0.75M0,-1V1", "color": "#a5a5a5"},
     "encoding": {"x": {"field": "a", "type": "quantitative"}}},
    {"data": {"name": "p12"}, "mark": {"type": "point", "opacity": 0, "filled": false, "clip": true},
     "encoding": {"x": {"field": "a", "type": "quantitative"},
      "color": {"field": "s", "type": "nominal", "scale": {"domain": ["CPT 307", "CPT501", "CPT502", "CPT503"], "range": ["#9dc36b", "#5b9bd5", "#2e6eb5", "#a5a5a5"]},
       "legend": {"title": null, "orient": "none", "direction": "horizontal", "legendX": 0.5, "legendY": 880, "columns": 2, "symbolSize": 100, "symbolOpacity": 1, "symbolStrokeWidth": 2, "symbolFillColor": "transparent", "labelOffset": 12.5, "columnPadding": 24.5, "rowPadding": 16}},
      "shape": {"field": "s", "type": "nominal", "scale": {"domain": ["CPT 307", "CPT501", "CPT502", "CPT503"], "range": ["M-3.3,0H-0.6M0.6,0H3.3M0,-0.6L0.6,0L0,0.6L-0.6,0Z", "M-3.3,0H-0.6M0.6,0H3.3M0.6,0A0.6,0.6,0,1,1,-0.6,0A0.6,0.6,0,1,1,0.6,0Z", "M-3.3,0H3.3M0,-0.8V0.8", "M-3.3,0H3.3M-0.55,-0.55L0.55,0.55M-0.55,0.55L0.55,-0.55M0,-0.8V0.8"]},
       "legend": {"title": null, "orient": "none", "direction": "horizontal", "legendX": 0.5, "legendY": 880, "columns": 2, "symbolSize": 100, "symbolOpacity": 1, "symbolStrokeWidth": 2, "symbolFillColor": "transparent", "labelOffset": 12.5, "columnPadding": 24.5, "rowPadding": 16}}
     }},
    {"data": {"name": "dash"}, "mark": {"type": "rule", "color": "#595959", "strokeWidth": 1, "strokeDash": [4, 3]}, "encoding": {}},
    {"data": {"name": "band"}, "mark": {"type": "rect", "color": "#ffff00", "fillOpacity": 0.3}, "encoding": {"x": {"datum": -27.8}, "x2": {"datum": 500}, "y2": {"field": "rl2"}}},
    {"data": {"name": "bandEdge"}, "mark": {"type": "rule", "color": "#a6a6a6", "strokeWidth": 1}, "encoding": {"x": {"datum": -27.8}, "x2": {"datum": 500}}},
    {"data": {"name": "band"}, "mark": {"type": "rule", "color": "#a6a6a6", "strokeWidth": 1}, "encoding": {"x": {"datum": -27.8}, "y2": {"field": "rl2"}}}
   ]
  },
  {
   "width": 234, "height": 803,
   "encoding": {"y": {"field": "rl", "type": "quantitative", "scale": {"domain": [-8, 17], "nice": false, "zero": false}, "axis": {"values": [-8,-7,-6,-5,-4,-3,-2,-1,0,1,2,3,4,5,6,7,8,9,10,11,12,13,14,15,16,17], "grid": true, "labelOverlap": false, "labelSeparation": 0, "labelExpr": "'' + datum.value", "title": "RL (m)", "titleAngle": 0, "titleAlign": "left", "titleBaseline": "alphabetic", "titleX": -28, "titleY": -24, "titleFontSize": 14}}},
   "layer": [
    {"data": {"name": "grid"}, "mark": {"type": "rule", "color": "#d9d9d9", "strokeWidth": 1}, "encoding": {}},
    {"data": {"name": "p12"}, "transform": [{"filter": "datum.s === 'CPT 307'"}], "mark": {"type": "line", "clip": true, "strokeWidth": 2.2, "color": "#9dc36b"},
     "encoding": {"x": {"field": "b", "type": "quantitative", "scale": {"domain": [0, 500], "nice": false, "zero": false}, "axis": {"values": [0, 100, 200, 300, 400, 500], "title": "(qc1N)cs", "titleX": 85}}, "detail": {"field": "g"}, "order": {"field": "rl", "sort": "descending"}}},
    {"data": {"name": "p12"}, "transform": [{"filter": "datum.s === 'CPT501'"}], "mark": {"type": "line", "clip": true, "strokeWidth": 2.2, "color": "#5b9bd5"},
     "encoding": {"x": {"field": "b", "type": "quantitative"}, "order": {"field": "rl", "sort": "descending"}}},
    {"data": {"name": "p12"}, "transform": [{"filter": "datum.s === 'CPT502'"}], "mark": {"type": "line", "clip": true, "strokeWidth": 2.4, "color": "#2e6eb5"},
     "encoding": {"x": {"field": "b", "type": "quantitative"}, "order": {"field": "rl", "sort": "descending"}}},
    {"data": {"name": "p12"}, "transform": [{"filter": "datum.s === 'CPT503'"}], "mark": {"type": "line", "clip": true, "strokeWidth": 2.2, "color": "#a5a5a5"},
     "encoding": {"x": {"field": "b", "type": "quantitative"}, "order": {"field": "rl", "sort": "descending"}}},
    {"data": {"name": "p12"}, "transform": [{"filter": "datum.s === 'CPT 307'"}], "mark": {"type": "point", "clip": true, "filled": false, "size": 42, "strokeWidth": 1.3, "opacity": 1, "shape": "M0,-1L1,0L0,1L-1,0Z", "color": "#9dc36b"},
     "encoding": {"x": {"field": "b", "type": "quantitative"}}},
    {"data": {"name": "p12"}, "transform": [{"filter": "datum.s === 'CPT501'"}], "mark": {"type": "point", "clip": true, "filled": false, "size": 42, "strokeWidth": 1.3, "opacity": 1, "shape": "M1,0A1,1,0,1,1,-1,0A1,1,0,1,1,1,0Z", "color": "#5b9bd5"},
     "encoding": {"x": {"field": "b", "type": "quantitative"}}},
    {"data": {"name": "p12"}, "transform": [{"filter": "datum.s === 'CPT502'"}], "mark": {"type": "point", "clip": true, "filled": false, "size": 42, "strokeWidth": 1.4, "opacity": 1, "shape": "M-1,0H1M0,-1V1", "color": "#2e6eb5"},
     "encoding": {"x": {"field": "b", "type": "quantitative"}}},
    {"data": {"name": "p12"}, "transform": [{"filter": "datum.s === 'CPT503'"}], "mark": {"type": "point", "clip": true, "filled": false, "size": 42, "strokeWidth": 1.3, "opacity": 1, "shape": "M-0.75,-0.75L0.75,0.75M-0.75,0.75L0.75,-0.75M0,-1V1", "color": "#a5a5a5"},
     "encoding": {"x": {"field": "b", "type": "quantitative"}}},
    {"data": {"name": "p12"}, "mark": {"type": "point", "opacity": 0, "filled": false, "clip": true},
     "encoding": {"x": {"field": "b", "type": "quantitative"},
      "color": {"field": "s", "type": "nominal", "scale": {"domain": ["CPT 307", "CPT501", "CPT502", "CPT503"], "range": ["#9dc36b", "#5b9bd5", "#2e6eb5", "#a5a5a5"]},
       "legend": {"title": null, "orient": "none", "direction": "horizontal", "legendX": 0.5, "legendY": 880, "columns": 2, "symbolSize": 100, "symbolOpacity": 1, "symbolStrokeWidth": 2, "symbolFillColor": "transparent", "labelOffset": 12.5, "columnPadding": 24.5, "rowPadding": 16}},
      "shape": {"field": "s", "type": "nominal", "scale": {"domain": ["CPT 307", "CPT501", "CPT502", "CPT503"], "range": ["M-3.3,0H-0.6M0.6,0H3.3M0,-0.6L0.6,0L0,0.6L-0.6,0Z", "M-3.3,0H-0.6M0.6,0H3.3M0.6,0A0.6,0.6,0,1,1,-0.6,0A0.6,0.6,0,1,1,0.6,0Z", "M-3.3,0H3.3M0,-0.8V0.8", "M-3.3,0H3.3M-0.55,-0.55L0.55,0.55M-0.55,0.55L0.55,-0.55M0,-0.8V0.8"]},
       "legend": {"title": null, "orient": "none", "direction": "horizontal", "legendX": 0.5, "legendY": 880, "columns": 2, "symbolSize": 100, "symbolOpacity": 1, "symbolStrokeWidth": 2, "symbolFillColor": "transparent", "labelOffset": 12.5, "columnPadding": 24.5, "rowPadding": 16}}
     }},
    {"data": {"name": "dash"}, "mark": {"type": "rule", "color": "#595959", "strokeWidth": 1, "strokeDash": [4, 3]}, "encoding": {}},
    {"data": {"name": "band"}, "mark": {"type": "rect", "color": "#ffff00", "fillOpacity": 0.3}, "encoding": {"x": {"datum": -173}, "x2": {"datum": 500}, "y2": {"field": "rl2"}}},
    {"data": {"name": "bandEdge"}, "mark": {"type": "rule", "color": "#a6a6a6", "strokeWidth": 1}, "encoding": {"x": {"datum": -173}, "x2": {"datum": 500}}}
   ]
  },
  {
   "width": 234, "height": 803,
   "encoding": {"y": {"field": "rl", "type": "quantitative", "scale": {"domain": [-8, 17], "nice": false, "zero": false}, "axis": {"values": [-8,-7,-6,-5,-4,-3,-2,-1,0,1,2,3,4,5,6,7,8,9,10,11,12,13,14,15,16,17], "grid": true, "labelOverlap": false, "labelSeparation": 0, "labelExpr": "'' + datum.value", "title": "RL (m)", "titleAngle": 0, "titleAlign": "left", "titleBaseline": "alphabetic", "titleX": -28, "titleY": -24, "titleFontSize": 14}}},
   "layer": [
    {"data": {"name": "grid"}, "mark": {"type": "rule", "color": "#d9d9d9", "strokeWidth": 1}, "encoding": {}},
    {"data": {"name": "p3"}, "mark": {"type": "point", "clip": true, "filled": false, "size": 42, "strokeWidth": 1.2, "opacity": 1},
     "encoding": {
      "x": {"field": "c", "type": "quantitative", "scale": {"domain": [0, 0.5], "nice": false, "zero": false}, "axis": {"values": [0, 0.1, 0.2, 0.3, 0.4, 0.5], "format": ".1f", "title": "CSR / CRR", "titleX": 123}},
      "color": {"field": "s", "type": "nominal", "scale": {"domain": ["CPT 307", "CPT501", "CPT502", "CPT503"], "range": ["#b5cc95", "#8c959e", "#3d4f60", "#a0a0a0"]},
       "legend": {"title": null, "orient": "none", "direction": "horizontal", "legendX": 0.5, "legendY": 880, "columns": 2, "symbolSize": 49, "symbolStrokeWidth": 1, "labelOffset": 3, "columnPadding": 43, "rowPadding": 16}},
      "shape": {"field": "s", "type": "nominal", "scale": {"domain": ["CPT 307", "CPT501", "CPT502", "CPT503"], "range": ["M0,-1L1,0L0,1L-1,0Z", "M1,0A1,1,0,1,1,-1,0A1,1,0,1,1,1,0Z", "M-1,0H1M0,-1V1", "M-0.75,-0.75L0.75,0.75M-0.75,0.75L0.75,-0.75M0,-1V1"]},
       "legend": {"title": null, "orient": "none", "direction": "horizontal", "legendX": 0.5, "legendY": 880, "columns": 2, "symbolSize": 49, "symbolStrokeWidth": 1, "labelOffset": 3, "columnPadding": 43, "rowPadding": 16}}
     }},
    {"data": {"name": "csr"}, "mark": {"type": "line", "color": "#000000", "strokeWidth": 3},
     "encoding": {"x": {"field": "c", "type": "quantitative"}, "order": {"field": "rl", "sort": "descending"}}},
    {"data": {"name": "dash"}, "mark": {"type": "rule", "color": "#595959", "strokeWidth": 1, "strokeDash": [4, 3]}, "encoding": {}},
    {"data": {"name": "band"}, "mark": {"type": "rect", "color": "#ffff00", "fillOpacity": 0.3}, "encoding": {"x": {"datum": -0.173}, "x2": {"datum": 0.5}, "y2": {"field": "rl2"}}},
    {"data": {"name": "bandEdge"}, "mark": {"type": "rule", "color": "#a6a6a6", "strokeWidth": 1}, "encoding": {"x": {"datum": -0.173}, "x2": {"datum": 0.5}}}
   ]
  },
  {
   "width": 234, "height": 803,
   "encoding": {"y": {"field": "rl", "type": "quantitative", "scale": {"domain": [-8, 17], "nice": false, "zero": false}, "axis": {"values": [-8,-7,-6,-5,-4,-3,-2,-1,0,1,2,3,4,5,6,7,8,9,10,11,12,13,14,15,16,17], "grid": true, "labelOverlap": false, "labelSeparation": 0, "labelExpr": "'' + datum.value", "title": "RL (m)", "titleAngle": 0, "titleAlign": "left", "titleBaseline": "alphabetic", "titleX": -28, "titleY": -24, "titleFontSize": 14}}},
   "layer": [
    {"data": {"name": "grid"}, "mark": {"type": "rule", "color": "#d9d9d9", "strokeWidth": 1}, "encoding": {}},
    {"data": {"name": "p4"}, "mark": {"type": "point", "clip": true, "filled": false, "size": 42, "strokeWidth": 1.2, "opacity": 1},
     "encoding": {
      "x": {"field": "f", "type": "quantitative", "scale": {"domain": [0, 2], "nice": false, "zero": false}, "axis": {"values": [0, 0.5, 1, 1.5, 2], "format": ".1f", "title": "FSₗ", "titleX": 117}},
      "color": {"field": "s", "type": "nominal", "scale": {"domain": ["CPT 307", "CPT501", "CPT502", "CPT503"], "range": ["#b5cc95", "#8c959e", "#3d4f60", "#a0a0a0"]},
       "legend": {"title": null, "orient": "none", "direction": "horizontal", "legendX": 0.5, "legendY": 880, "columns": 2, "symbolSize": 49, "symbolStrokeWidth": 1, "labelOffset": 3, "columnPadding": 43, "rowPadding": 16}},
      "shape": {"field": "s", "type": "nominal", "scale": {"domain": ["CPT 307", "CPT501", "CPT502", "CPT503"], "range": ["M0,-1L1,0L0,1L-1,0Z", "M1,0A1,1,0,1,1,-1,0A1,1,0,1,1,1,0Z", "M-1,0H1M0,-1V1", "M-0.75,-0.75L0.75,0.75M-0.75,0.75L0.75,-0.75M0,-1V1"]},
       "legend": {"title": null, "orient": "none", "direction": "horizontal", "legendX": 0.5, "legendY": 880, "columns": 2, "symbolSize": 49, "symbolStrokeWidth": 1, "labelOffset": 3, "columnPadding": 43, "rowPadding": 16}}
     }},
    {"data": {"name": "dash"}, "mark": {"type": "rule", "color": "#595959", "strokeWidth": 1, "strokeDash": [4, 3]}, "encoding": {}},
    {"data": {"name": "band"}, "mark": {"type": "rect", "color": "#ffff00", "fillOpacity": 0.3}, "encoding": {"x": {"datum": -0.692}, "x2": {"datum": 2.034}, "y2": {"field": "rl2"}}},
    {"data": {"name": "bandEdge"}, "mark": {"type": "rule", "color": "#a6a6a6", "strokeWidth": 1}, "encoding": {"x": {"datum": -0.692}, "x2": {"datum": 2.034}}},
    {"data": {"name": "band"}, "mark": {"type": "rule", "color": "#a6a6a6", "strokeWidth": 1}, "encoding": {"x": {"datum": 2.034}, "y2": {"field": "rl2"}}}
   ]
  }
 ]
}
